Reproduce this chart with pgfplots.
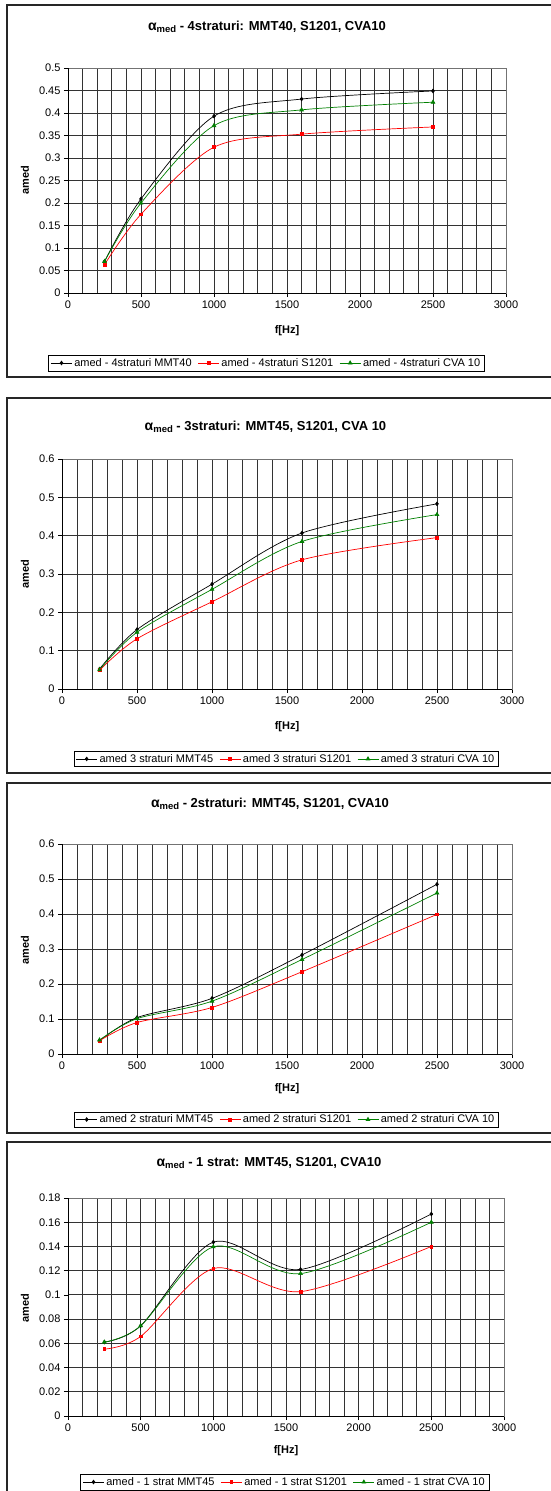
\documentclass[border=0pt]{standalone}
\usepackage{fontspec}
\setmainfont{Liberation Sans}
\usepackage{pgfplots}
\pgfplotsset{compat=1.18}
\definecolor{xgreen}{RGB}{0,128,0}
\pgfplotsset{
  panel/.style={
    scale only axis, anchor=south west,
    xmin=0, xmax=3000,
    xtick={0,500,...,3000},
    minor xtick={100,200,...,2900},
    grid=both,
    major grid style={black!80, line width=0.85pt},
    minor grid style={black!80, line width=0.85pt},
    axis line style={black!55, line width=1pt},
    tick align=outside, xtick pos=bottom, ytick pos=left,
    major tick length=4pt, minor tick length=0pt,
    tick style={black, line width=0.7pt},
    ticklabel style={font=\fontsize{11}{13}\selectfont},
    /pgf/number format/assume math mode=true,
    xticklabel style={/pgf/number format/1000 sep={}},
    yticklabel style={/pgf/number format/fixed, /pgf/number format/precision=2},
    legend columns=3,
    legend cell align=left,
    legend style={draw=black, fill=white, font=\fontsize{11}{13}\selectfont,
      inner xsep=2pt, inner ysep=1pt, anchor=center,
      /tikz/every even column/.append style={column sep=4pt}},
    legend image code/.code={\draw[mark repeat=2,mark phase=2] plot coordinates {(0pt,0pt) (10.5pt,0pt) (21pt,0pt)};},
    every axis plot/.append style={line width=0.7pt, smooth, tension=0.5},
    after end axis/.code={\draw[black, line width=0.9pt] (rel axis cs:0,1) -- (rel axis cs:0,0) -- (rel axis cs:1,0);},
  },
  sblack/.style={black, mark=diamond*, mark size=1.8pt, mark options={solid}},
  sred/.style={red, mark=square*, mark size=1.4pt, mark options={solid}},
  sgreen/.style={xgreen, mark=triangle*, mark size=2.1pt, mark options={solid}},
}
\newcommand{\ttl}[1]{\fontsize{13}{15}\selectfont\bfseries {\fontsize{14}{15}\selectfont α}\raisebox{-2.5pt}{\fontsize{9.5}{10}\selectfont med} #1}
\tikzset{lab/.style={font=\fontsize{11}{13}\selectfont\bfseries}}
\begin{document}
\begin{tikzpicture}[x=1pt,y=1pt]
\useasboundingbox (0,0) rectangle (550,-1491);
\fill[white] (0,0) rectangle (550,-1491);
\draw[black!85, line width=1.2pt] (7,-5) rectangle (560,-377);
\draw[black!85, line width=1.2pt] (7,-398) rectangle (560,-773);
\draw[black!85, line width=1.2pt] (7,-783) rectangle (560,-1133);
\draw[black!85, line width=1.2pt] (7,-1142) rectangle (560,-1510);

% Panel 1
\begin{axis}[panel, at={(68pt,-293pt)}, width=438pt, height=225pt,
  ymin=0, ymax=0.5, ytick={0,0.05,...,0.501},
  legend style={at={(axis description cs:0.453,-0.311)}}]
\addplot[sblack] coordinates {(250,0.070) (500,0.209) (1000,0.393) (1600,0.431) (2500,0.449)};
\addplot[sred] coordinates {(250,0.063) (500,0.175) (1000,0.324) (1600,0.353) (2500,0.369)};
\addplot[sgreen] coordinates {(250,0.070) (500,0.200) (1000,0.372) (1600,0.407) (2500,0.424)};
\legend{amed - 4straturi MMT40, amed - 4straturi S1201, amed - 4straturi CVA 10}
\end{axis}
\node at (267,-27) {\ttl{- 4straturi: MMT40, S1201, CVA10}};
\node[lab, rotate=90] at (25,-180.5) {amed};
\node[lab] at (287,-331) {f[Hz]};

% Panel 2
\begin{axis}[panel, at={(62pt,-689pt)}, width=450pt, height=230pt,
  ymin=0, ymax=0.6, ytick={0,0.1,...,0.601},
  legend style={at={(axis description cs:0.498,-0.304)}}]
\addplot[sblack] coordinates {(250,0.052) (500,0.155) (1000,0.2735) (1600,0.407) (2500,0.483)};
\addplot[sred] coordinates {(250,0.049) (500,0.131) (1000,0.2275) (1600,0.337) (2500,0.395)};
\addplot[sgreen] coordinates {(250,0.050) (500,0.148) (1000,0.260) (1600,0.385) (2500,0.455)};
\legend{amed 3 straturi MMT45, amed 3 straturi S1201, amed 3 straturi CVA 10}
\end{axis}
\node at (265.5,-427) {\ttl{- 3straturi: MMT45, S1201, CVA 10}};
\node[lab, rotate=90] at (25,-574) {amed};
\node[lab] at (287,-727) {f[Hz]};

% Panel 3
\begin{axis}[panel, at={(62pt,-1054pt)}, width=450pt, height=210pt,
  ymin=0, ymax=0.6, ytick={0,0.1,...,0.601},
  legend style={at={(axis description cs:0.498,-0.312)}}]
\addplot[sblack] coordinates {(250,0.038) (500,0.104) (1000,0.159) (1600,0.283) (2500,0.485)};
\addplot[sred] coordinates {(250,0.038) (500,0.090) (1000,0.133) (1600,0.235) (2500,0.399)};
\addplot[sgreen] coordinates {(250,0.040) (500,0.101) (1000,0.151) (1600,0.270) (2500,0.460)};
\legend{amed 2 straturi MMT45, amed 2 straturi S1201, amed 2 straturi CVA 10}
\end{axis}
\node at (270,-804) {\ttl{- 2straturi: MMT45, S1201, CVA10}};
\node[lab, rotate=90] at (25,-950) {amed};
\node[lab] at (287,-1089) {f[Hz]};

% Panel 4
\begin{axis}[panel, at={(68pt,-1416pt)}, width=436pt, height=218pt,
  ymin=0, ymax=0.18, ytick={0,0.02,...,0.181},
  legend style={at={(axis description cs:0.497,-0.303)}}]
\addplot[sblack] coordinates {(250,0.061) (500,0.0745) (1000,0.1436) (1600,0.121) (2500,0.1668)};
\addplot[sred] coordinates {(250,0.0552) (500,0.0657) (1000,0.1218) (1600,0.1027) (2500,0.140)};
\addplot[sgreen] coordinates {(250,0.061) (500,0.0745) (1000,0.1397) (1600,0.1176) (2500,0.160)};
\legend{amed - 1 strat MMT45, amed - 1 strat S1201, amed - 1 strat CVA 10}
\end{axis}
\node at (269,-1163) {\ttl{- 1 strat: MMT45, S1201, CVA10}};
\node[lab, rotate=90] at (25,-1308) {amed};
\node[lab] at (286,-1451) {f[Hz]};
\end{tikzpicture}
\end{document}
